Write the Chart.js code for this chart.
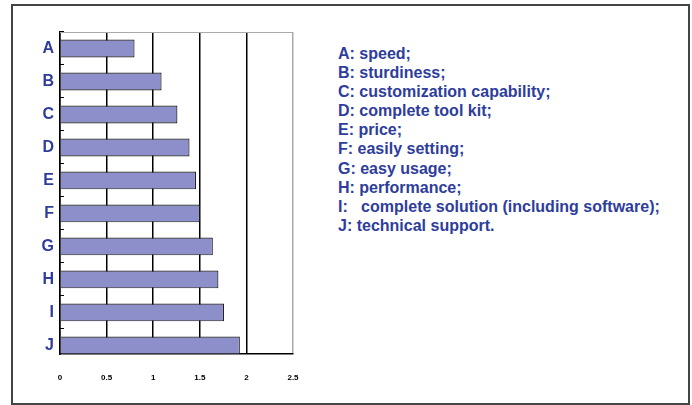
<!DOCTYPE html>
<html>
<head>
<meta charset="utf-8">
<script src="https://cdn.jsdelivr.net/npm/chart.js@4.4.0/dist/chart.umd.min.js"></script>
<style>
  body { margin: 0; background: #fff; }
  #frame {
    position: absolute; left: 11px; top: 4px; width: 675px; height: 397px;
    border: 2px solid #444; background: #fff;
  }
  #chartBox { position: absolute; left: -13px; top: -6px; width: 320px; height: 400px; }
  #legend {
    position: absolute; left: 325px; top: 38px; margin: 0; padding: 0;
    list-style: none; font: bold 16px "Liberation Sans", Arial, sans-serif;
    color: #2e3d9c; line-height: 19.1px; white-space: pre;
  }
</style>
</head>
<body>
<div id="frame">
  <div id="chartBox"><canvas id="chart" width="320" height="400"></canvas></div>
  <ul id="legend"></ul>
</div>
<script>
const categories = ["A", "B", "C", "D", "E", "F", "G", "H", "I", "J"];
const scores = [0.8, 1.09, 1.26, 1.39, 1.46, 1.5, 1.64, 1.7, 1.76, 1.93];
const legendItems = [
  "A: speed;",
  "B: sturdiness;",
  "C: customization capability;",
  "D: complete tool kit;",
  "E: price;",
  "F: easily setting;",
  "G: easy usage;",
  "H: performance;",
  "I:   complete solution (including software);",
  "J: technical support."
];

const ul = document.getElementById("legend");
legendItems.forEach((t) => {
  const li = document.createElement("li");
  li.textContent = t;
  ul.appendChild(li);
});

// top edge of the plot box (light gray like the right edge)
const topBorder = {
  id: "topBorder",
  afterDraw(chart) {
    const { ctx, chartArea } = chart;
    ctx.save();
    ctx.strokeStyle = "#aaaaaa";
    ctx.lineWidth = 1;
    ctx.beginPath();
    ctx.moveTo(chartArea.left, chartArea.top + 0.5);
    ctx.lineTo(chartArea.right, chartArea.top + 0.5);
    ctx.stroke();
    ctx.restore();
  },
};

// bars sit on a numeric index axis so the last one rests on the x axis like the original
const points = scores.map((v, i) => ({ x: v, y: i }));

const ctx = document.getElementById("chart").getContext("2d");
new Chart(ctx, {
  type: "bar",
  data: {
    datasets: [
      {
        data: points,
        backgroundColor: "#8c8fca",
        borderColor: "#222",
        borderWidth: 1.2,
        barPercentage: 0.54,
        categoryPercentage: 1,
      },
    ],
  },
  options: {
    indexAxis: "y",
    responsive: false,
    animation: false,
    layout: { padding: { top: 32, right: 27, left: 0, bottom: 0 } },
    plugins: { legend: { display: false }, tooltip: { enabled: false } },
    scales: {
      x: {
        type: "linear",
        min: 0,
        max: 2.5,
        ticks: {
          stepSize: 0.5,
          padding: 19,
          color: "#000",
          font: { family: "Liberation Sans", size: 8, weight: "bold" },
          callback: (v) => String(v),
        },
        grid: {
          drawTicks: false,
          lineWidth: 1.5,
          color: (c) => (c.tick && c.tick.value === 2.5 ? "#aaaaaa" : "#000"),
        },
        border: { color: "#000", width: 1.5 },
        afterFit: (s) => { s.height = 46; },
      },
      y: {
        type: "linear",
        reverse: true,
        offset: false,
        min: -0.5,
        max: 9.26,
        afterBuildTicks: (s) => { s.ticks = categories.map((_, i) => ({ value: i })); },
        ticks: {
          padding: 10,
          color: "#2e3d9c",
          font: { family: "Liberation Sans", size: 16, weight: "bold" },
          callback: (v) => categories[v],
        },
        grid: {
          display: true,
          drawOnChartArea: false,
          offset: true,
          tickLength: -4,
          color: "#000",
          lineWidth: 1,
        },
        border: { color: "#000", width: 1.5 },
        afterFit: (s) => { s.width = 60; },
      },
    },
  },
  plugins: [topBorder],
});
</script>
</body>
</html>
